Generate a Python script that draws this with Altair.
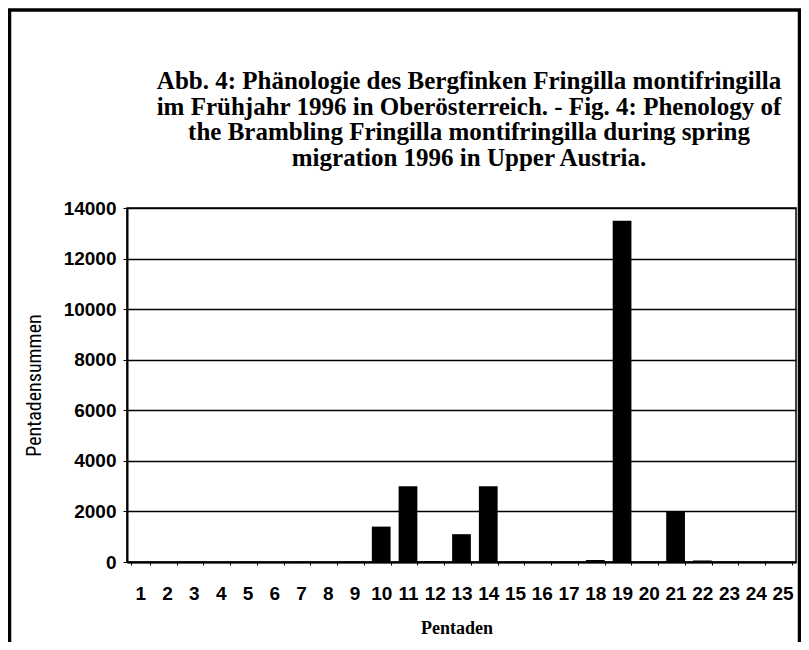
import altair as alt
import pandas as pd

pentaden = [str(i) for i in range(1, 26)]
summen = [0, 0, 10, 0, 10, 0, 10, 0, 20, 1400, 3000, 30, 1100, 3000, 10,
          0, 10, 80, 13500, 20, 1980, 60, 10, 0, 0]
y_ticks = [0, 2000, 4000, 6000, 8000, 10000, 12000, 14000]
title_lines = [
    "Abb. 4: Phänologie des Bergfinken Fringilla montifringilla",
    "im Frühjahr 1996 in Oberösterreich. - Fig. 4: Phenology of",
    "the Brambling Fringilla montifringilla during spring",
    "migration 1996 in Upper Austria.",
]
x_title = "Pentaden"
y_title = "Pentadensummen"

df = pd.DataFrame({"Pentade": pentaden, "Summe": summen})

bars = alt.Chart(df).mark_bar(color="black").encode(
    x=alt.X(
        "Pentade:N",
        sort=pentaden,
        scale=alt.Scale(paddingInner=0.3, paddingOuter=0.15),
        axis=alt.Axis(
            title=x_title,
            labelAngle=0,
            labelFont="Liberation Sans",
            labelFontWeight="bold",
            labelFontSize=19,
            labelColor="black",
            labelBaseline="alphabetic",
            labelPadding=34,
            tickBand="extent",
            tickSize=3,
            tickColor="black",
            domainColor="black",
            domainWidth=2,
            titleFont="Liberation Serif",
            titleFontWeight="bold",
            titleFontSize=18,
            titleColor="black",
            titleBaseline="alphabetic",
            titleX=329.5,
            titleY=71,
            titleAnchor="start",
            titleAlign="center",
        ),
    ),
    y=alt.Y(
        "Summe:Q",
        scale=alt.Scale(domain=[0, 14000], nice=False),
        axis=alt.Axis(
            title=y_title,
            values=y_ticks,
            format="d",
            labelFont="Liberation Sans",
            labelFontWeight="bold",
            labelFontSize=19,
            labelColor="black",
            labelPadding=7,
            tickSize=4,
            tickColor="black",
            domainColor="black",
            domainWidth=2,
            grid=True,
            gridColor="black",
            gridWidth=1.3,
            gridOpacity=1,
            titleFont="Liberation Sans Narrow, Arial Narrow, Roboto Condensed, sans-serif",
            titleFontWeight="normal",
            titleFontSize=20,
            titleColor="black",
            titleAngle=270,
            titleBaseline="alphabetic",
            titleAlign="center",
            titleX=-87,
            titleY=177,
        ),
    ),
)

heading = alt.Chart(pd.DataFrame({"t": [0]})).mark_text(
    font="Liberation Serif",
    fontSize=25,
    fontWeight="bold",
    lineHeight=25.5,
    color="black",
    align="center",
    baseline="alphabetic",
).encode(
    text=alt.value(title_lines),
    x=alt.value(342),
    y=alt.value(-119),
)

frame = alt.Chart(pd.DataFrame({"f": [0]})).mark_rect(
    fillOpacity=0, stroke="black", strokeWidth=3.5
).encode(
    x=alt.value(-117.5),
    x2=alt.value(672.5),
    y=alt.value(-198),
    y2=alt.value(445),
)

chart = alt.layer(bars, heading, frame).properties(
    width=669,
    height=354,
    autosize=alt.AutoSizeParams(type="none"),
    padding={"left": 119, "top": 200, "right": 5, "bottom": 80},
).configure_view(stroke="black", strokeWidth=1.5)

chart.save("out.html", embed_options={"renderer": "svg", "actions": False})
